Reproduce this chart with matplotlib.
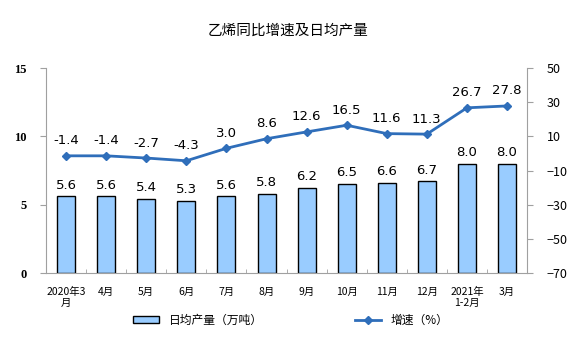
import matplotlib
matplotlib.use('Agg')
import matplotlib.pyplot as plt
import numpy as np
from matplotlib.lines import Line2D
from matplotlib.patches import Patch

plt.rcParams['font.family'] = ['Noto Sans CJK SC', 'DejaVu Sans']

months = ['2020年3\n月', '4月', '5月', '6月', '7月', '8月', '9月', '10月',
          '11月', '12月', '2021年\n1-2月', '3月']
output = [5.6, 5.6, 5.4, 5.3, 5.6, 5.8, 6.2, 6.5, 6.6, 6.7, 8.0, 8.0]
growth = [-1.4, -1.4, -2.7, -4.3, 3.0, 8.6, 12.6, 16.5, 11.6, 11.3, 26.7, 27.8]

fig = plt.figure(figsize=(5.76, 3.58), dpi=100)
ax = fig.add_axes([0.080, 0.2374, 0.835, 0.5726])
ax2 = ax.twinx()

x = np.arange(len(months)) + 0.5
bar_col = '#99CCFF'
line_col = '#2F6EBA'
grey = '#A0A0A0'

ax.bar(x, output, width=0.45, color=bar_col, edgecolor='black', linewidth=1.0, zorder=2)
for xi, v in zip(x, output):
    ax.text(xi, v + 0.35, '%.1f' % v, ha='center', va='bottom', fontsize=9.5,
            family='DejaVu Sans')

ax2.plot(x, growth, color=line_col, linewidth=2, marker='D', markersize=4, zorder=3)
for xi, v in zip(x, growth):
    ax2.text(xi, v + 5, '%.1f' % v, ha='center', va='bottom', fontsize=9.5,
             family='DejaVu Sans')

ax.set_xlim(0, 12)
ax.set_ylim(0, 15)
ax.set_yticks([0, 5, 10, 15])
ax2.set_ylim(-70, 50)
ax2.set_yticks(range(-70, 51, 20))
ax2.set_yticklabels([str(t).replace('-', '\u2212') for t in range(-70, 51, 20)])

ax.set_xticks(x)
ax.set_xticklabels(months, fontsize=7.5, linespacing=1.1)
ax.set_xticks(np.arange(1, 12), minor=True)
ax.tick_params(axis='x', which='major', length=0, pad=10)
ax.tick_params(axis='x', which='minor', length=3, direction='in', color=grey)

for lab in ax.get_yticklabels():
    lab.set_family('Liberation Serif')
    lab.set_fontweight('bold')
    lab.set_fontsize(9)
ax.tick_params(axis='y', length=4, color=grey, pad=10)
ax2.tick_params(axis='y', length=4, color=grey, labelsize=9, pad=10)

for a in (ax, ax2):
    a.spines['top'].set_visible(False)
    for s in ('left', 'right', 'bottom'):
        a.spines[s].set_color(grey)
ax2.spines['left'].set_visible(False)
ax2.spines['bottom'].set_visible(False)
ax.spines['right'].set_visible(False)

fig.text(0.5, 0.915, '乙烯同比增速及日均产量', ha='center', va='center', fontsize=10.5)

handles = [Patch(facecolor=bar_col, edgecolor='black', linewidth=1.0),
           Line2D([0], [0], color=line_col, linewidth=2, marker='D', markersize=4)]
fig.legend(handles, ['日均产量（万吨）', '增速（%）'], loc='center', ncol=2,
           bbox_to_anchor=(0.505, 0.105), frameon=False, fontsize=8.5,
           columnspacing=7.8, handlelength=2.2, handleheight=0.6)

fig.savefig('out.png', dpi=100)
